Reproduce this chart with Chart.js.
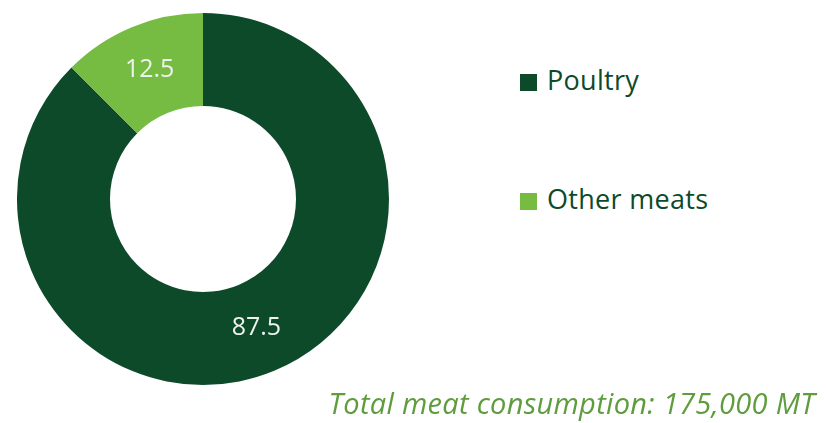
<!DOCTYPE html>
<html>
<head>
<meta charset="utf-8">
<script src="https://cdn.jsdelivr.net/npm/chart.js@4"></script>
<style>
  body { margin: 0; background: #fff; width: 826px; height: 423px; position: relative; overflow: hidden; font-family: "Open Sans", sans-serif; }
  #wrap { position: absolute; left: 17px; top: 13px; width: 372px; height: 372px; }
  .leg { position: absolute; left: 520px; font-size: 27px; letter-spacing: 0.3px; color: #0d4a2a; line-height: 32px; white-space: nowrap; }
  .leg span { display: inline-block; width: 17px; height: 17px; margin-right: 10px; vertical-align: -1px; }
  #note { position: absolute; right: 11px; top: 385px; font-size: 29px; line-height: 35px; letter-spacing: 0.3px; font-style: italic; color: #5e9c3e; white-space: nowrap; }
</style>
</head>
<body>
<div id="wrap"><canvas id="meatChart"></canvas></div>
<div class="leg" style="top:64px"><span style="background:#0d4a2a"></span>Poultry</div>
<div class="leg" style="top:183px"><span style="background:#76bc43"></span>Other meats</div>
<div id="note">Total meat consumption: 175,000 MT</div>
<script>
const categories = ['Poultry', 'Other meats'];
const shares = [87.5, 12.5];
const colors = ['#0d4a2a', '#76bc43'];

const valueLabels = {
  id: 'valueLabels',
  afterDatasetsDraw(chart) {
    const ctx = chart.ctx;
    const meta = chart.getDatasetMeta(0);
    ctx.save();
    ctx.font = '25px "Open Sans", sans-serif';
    ctx.fillStyle = '#eef3ee';
    ctx.textAlign = 'center';
    ctx.textBaseline = 'middle';
    meta.data.forEach((arc, i) => {
      const p = arc.tooltipPosition();
      ctx.fillText(shares[i].toFixed(1), p.x, p.y);
    });
    ctx.restore();
  }
};

new Chart(document.getElementById('meatChart'), {
  type: 'doughnut',
  data: {
    labels: categories,
    datasets: [{
      data: shares,
      backgroundColor: colors,
      borderWidth: 0
    }]
  },
  options: {
    responsive: true,
    maintainAspectRatio: false,
    animation: false,
    cutout: '50%',
    events: [],
    layout: { padding: 0 },
    plugins: { legend: { display: false }, tooltip: { enabled: false } }
  },
  plugins: [valueLabels]
});
</script>
</body>
</html>
